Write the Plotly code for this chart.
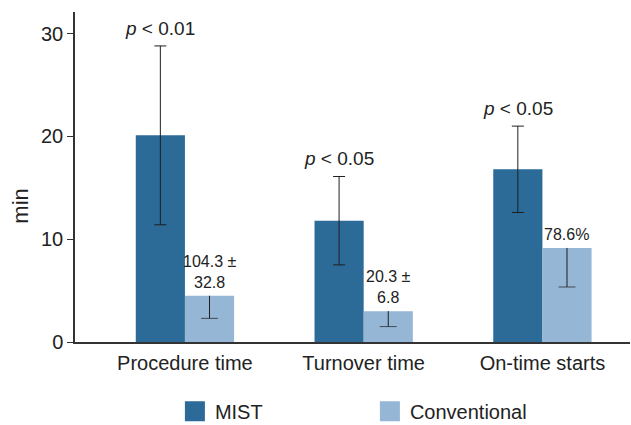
import plotly.graph_objects as go

categories = ["Procedure time", "Turnover time", "On-time starts"]
mist_values = [20.1, 11.8, 16.8]
mist_err = [8.7, 4.3, 4.2]
conv_values = [4.5, 3.0, 9.15]
conv_err_low = [2.2, 1.5, 3.8]
p_labels = ["<i>p</i> < 0.01", "<i>p</i> < 0.05", "<i>p</i> < 0.05"]
conv_labels = ["104.3 ±<br>32.8", "20.3 ±<br>6.8", "78.6%"]
y_ticks = [0, 10, 20, 30]
y_title = "min"

MIST_COLOR = "#2c6a98"
CONV_COLOR = "#95b6d5"
ERR_COLOR = "#1f1f1f"
FONT = "Liberation Sans, Arial, sans-serif"

xs = list(range(len(categories)))
bargap = 0.45
bw = (1 - bargap) / 2

fig = go.Figure()
fig.add_trace(go.Bar(
    x=xs, y=mist_values, name="MIST", showlegend=False,
    marker=dict(color=MIST_COLOR, line=dict(width=0)),
    error_y=dict(type="data", array=mist_err, color=ERR_COLOR, thickness=1, width=6),
))
fig.add_trace(go.Bar(
    x=xs, y=conv_values, name="Conventional", showlegend=False,
    marker=dict(color=CONV_COLOR, line=dict(width=0)),
))

# one-sided (downward) whiskers for the conventional bars
wx, wy, wsize = [], [], []
for i in xs:
    cx = i + bw / 2
    wx += [cx, cx, None]
    wy += [conv_values[i], conv_values[i] - conv_err_low[i], None]
    wsize += [0, 12, 0]
fig.add_trace(go.Scatter(
    x=wx, y=wy, mode="lines+markers", showlegend=False, hoverinfo="skip",
    line=dict(color=ERR_COLOR, width=1),
    marker=dict(symbol="line-ew", size=wsize, line=dict(color=ERR_COLOR, width=1)),
))

# legend entries with larger square swatches
for name, col in [("MIST", MIST_COLOR), ("Conventional", CONV_COLOR)]:
    fig.add_trace(go.Scatter(
        x=[None], y=[None], mode="markers", name=name,
        marker=dict(symbol="square", size=16, color=col, line=dict(color=col, width=4)),
    ))

for i in xs:
    top = mist_values[i] + mist_err[i]
    fig.add_annotation(x=i - bw / 2, y=top, yshift=5, text=p_labels[i], showarrow=False,
                       yanchor="bottom", xanchor="center",
                       font=dict(family=FONT, size=19, color="#222"))
    fig.add_annotation(x=i + bw / 2, y=conv_values[i], yshift=3, text=conv_labels[i], showarrow=False,
                       yanchor="bottom", xanchor="center",
                       font=dict(family=FONT, size=16, color="#222"))

# y-axis title, placed like the original (left of the axis, slightly below centre)
fig.add_annotation(xref="paper", yref="paper", x=0, xshift=-54, y=0.41, text=y_title,
                   textangle=-90, showarrow=False, xanchor="center", yanchor="middle",
                   font=dict(family=FONT, size=22, color="#222"))

fig.update_layout(
    width=631, height=425,
    margin=dict(l=75, r=1, t=12, b=83),
    paper_bgcolor="white", plot_bgcolor="white",
    barmode="group", bargap=bargap, bargroupgap=0,
    font=dict(family=FONT, size=20, color="#222"),
    showlegend=True,
    legend=dict(orientation="h", x=0.18, xanchor="left", yref="container", y=0.078, yanchor="top",
                entrywidth=150, font=dict(size=20), itemsizing="trace"),
    xaxis=dict(range=[-0.615, 2.49], tickvals=xs, ticktext=categories, showline=True,
               linecolor="#333", linewidth=1.5, ticks="", showgrid=False, zeroline=False,
               tickfont=dict(size=20), ticklabelstandoff=2),
    yaxis=dict(range=[0, 32.1], tickvals=y_ticks, showline=True, linecolor="#333", linewidth=1.5,
               ticks="outside", ticklen=6, tickcolor="#333", showgrid=False, zeroline=False,
               tickfont=dict(size=20)),
)

fig.write_html("out.html", config={"displayModeBar": False},
               post_script="document.body.style.margin='0';document.body.style.overflow='hidden';")
